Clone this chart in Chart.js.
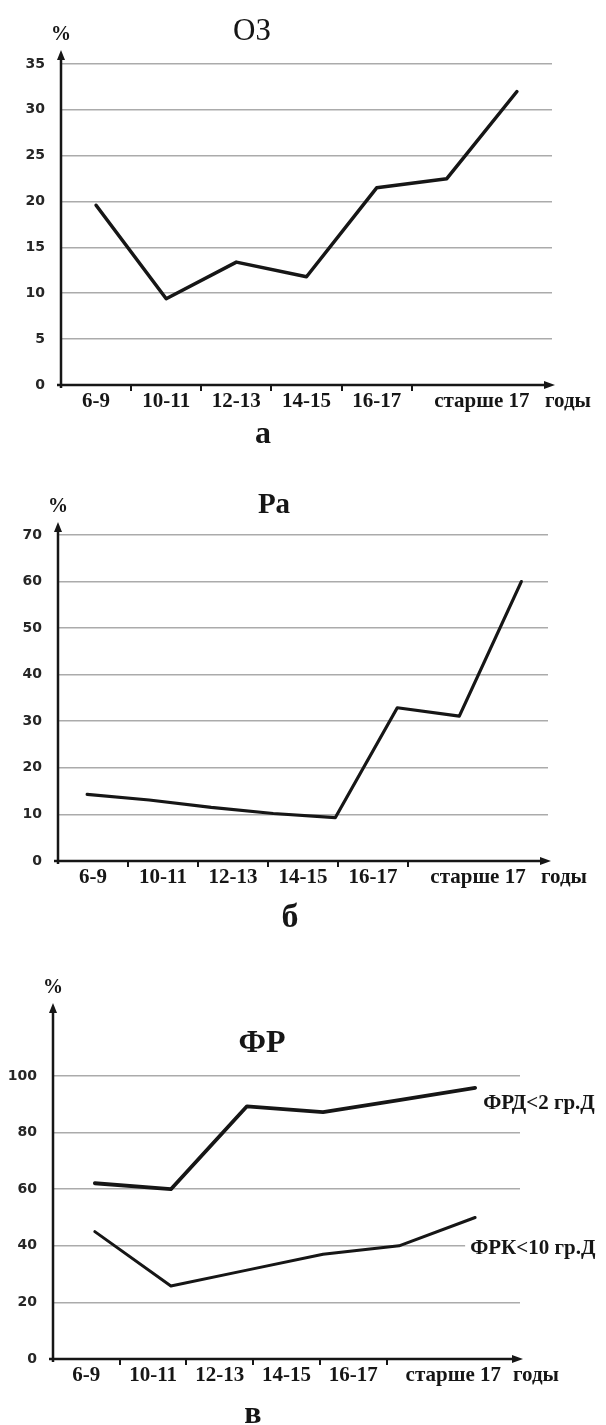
<!DOCTYPE html>
<html>
<head>
<meta charset="utf-8">
<script src="https://cdn.jsdelivr.net/npm/chart.js@4.4.0/dist/chart.umd.min.js"></script>
<style>
  html, body { margin: 0; padding: 0; background: #fff; }
  body { width: 606px; height: 1425px; position: relative; overflow: hidden; }
  canvas { position: absolute; left: 0; }
</style>
</head>
<body>
<canvas id="chartA" width="606" height="460" style="top:0px"></canvas>
<canvas id="chartB" width="606" height="480" style="top:460px"></canvas>
<canvas id="chartC" width="606" height="485" style="top:940px"></canvas>
<script>
// age groups, the last one is written across the last two slots
const ageLabels = ['6-9', '10-11', '12-13', '14-15', '16-17', 'старше 17'];
const slots = ['6-9', '10-11', '12-13', '14-15', '16-17', 'старше 17', ''];

// ОЗ (%)
const ozValues = [19.6, 9.4, 13.4, 11.8, 21.5, 22.5, 32.0];
const ozTicks = [0, 5, 10, 15, 20, 25, 30, 35];

// Ра (%)
const raValues = [14.3, 13.1, 11.5, 10.2, 9.3, 32.9, 31.1, 60.0];
const raTicks = [0, 10, 20, 30, 40, 50, 60, 70];

// ФР (%)
const frdValues = [62.1, 60.0, 89.3, 87.2, 91.5, 95.8];
const frkValues = [45.0, 25.8, 31.4, 37.0, 40.0, 50.0];
const frTicks = [0, 20, 40, 60, 80, 100];

const SERIF = '"Liberation Serif", "Times New Roman", serif';
const INK = '#161616';

// axes with arrows, x labels, titles
const decor = {
  id: 'decor',
  afterDraw(chart, args, o) {
    const ctx = chart.ctx;
    const { left, right, top, bottom } = chart.chartArea;
    const xs = chart.scales.x;
    ctx.save();
    ctx.strokeStyle = INK;
    ctx.fillStyle = INK;
    ctx.lineWidth = 2.5;

    // y axis
    const tipY = top - o.arrowUp;
    ctx.beginPath();
    ctx.moveTo(left, bottom + 3);
    ctx.lineTo(left, tipY + 6);
    ctx.stroke();
    ctx.beginPath();
    ctx.moveTo(left, tipY);
    ctx.lineTo(left - 4, tipY + 10);
    ctx.lineTo(left + 4, tipY + 10);
    ctx.closePath();
    ctx.fill();

    // x axis
    const tipX = right + 3;
    ctx.beginPath();
    ctx.moveTo(left - 4, bottom);
    ctx.lineTo(tipX - 6, bottom);
    ctx.stroke();
    ctx.beginPath();
    ctx.moveTo(tipX, bottom);
    ctx.lineTo(tipX - 11, bottom - 4);
    ctx.lineTo(tipX - 11, bottom + 4);
    ctx.closePath();
    ctx.fill();

    // category labels
    const baseY = bottom + 22;
    ctx.font = 'bold 21px ' + SERIF;
    ctx.textBaseline = 'alphabetic';
    ctx.textAlign = 'center';
    ageLabels.forEach((lab, i) => {
      let px = xs.getPixelForValue(i);
      if (i === ageLabels.length - 1) px = (px + xs.getPixelForValue(i + 1)) / 2;
      ctx.fillText(lab, px, baseY);
    });
    ctx.textAlign = 'left';
    ctx.fillText('годы', right - 7, baseY);

    // % unit
    ctx.textAlign = 'center';
    ctx.font = 'bold 20px ' + SERIF;
    ctx.fillText('%', left, tipY - 10);

    // title and panel letter
    ctx.font = o.title.font;
    ctx.fillText(o.title.text, o.title.x, o.title.y);
    ctx.font = 'bold ' + o.letter.size + 'px ' + SERIF;
    ctx.fillText(o.letter.text, o.letter.x, o.letter.y);

    // series names next to line ends
    (o.names || []).forEach(n => {
      const pts = chart.getDatasetMeta(n.dataset).data;
      const p = pts[pts.length - 1];
      ctx.font = 'bold 21px ' + SERIF;
      ctx.textAlign = 'left';
      const w = ctx.measureText(n.text).width;
      const x0 = p.x + n.dx, y0 = p.y + n.dy;
      ctx.fillStyle = '#fff';
      ctx.fillRect(x0 - 5, y0 - 17, w + 10, 22);
      ctx.fillStyle = INK;
      ctx.fillText(n.text, x0, y0);
    });
    ctx.restore();
  }
};

function makeChart(id, box, series, ticks, xRange, deco) {
  const canvas = document.getElementById(id);
  const H = canvas.height;
  return new Chart(canvas, {
    type: 'line',
    data: {
      labels: slots,
      datasets: series.map(s => ({
        data: s.values.map((v, i) => ({ x: i, y: v })),
        xAxisID: 'x2',
        borderColor: INK,
        borderWidth: s.width,
        borderJoinStyle: 'round',
        borderCapStyle: 'round',
        pointRadius: 0,
        tension: 0,
        fill: false
      }))
    },
    options: {
      responsive: false,
      animation: false,
      devicePixelRatio: 1,
      layout: {
        padding: { left: 0, top: box.top, right: 606 - box.right, bottom: H - box.bottom - 8 }
      },
      scales: {
        x: {
          type: 'category',
          offset: true,
          grid: {
            offset: true,
            drawOnChartArea: false,
            drawTicks: true,
            tickLength: 6,
            lineWidth: 2,
            color: c => (c.index >= 1 && c.index <= 5) ? INK : 'rgba(0,0,0,0)'
          },
          ticks: { display: false },
          border: { display: false },
          afterFit: s => { s.height = 8; }
        },
        x2: {
          type: 'linear',
          display: false,
          min: xRange[0],
          max: xRange[1]
        },
        y: {
          min: ticks[0],
          max: ticks[ticks.length - 1],
          afterBuildTicks: s => { s.ticks = ticks.map(v => ({ value: v })); },
          ticks: {
            font: { family: '"DejaVu Sans", sans-serif', weight: 'bold', size: 14 },
            color: '#262626',
            padding: 16
          },
          grid: { color: '#ababab', lineWidth: 1.6, drawTicks: false },
          border: { display: false },
          afterFit: s => { s.width = box.left; }
        }
      },
      plugins: {
        legend: { display: false },
        tooltip: { enabled: false },
        decor: deco
      }
    },
    plugins: [decor]
  });
}

makeChart('chartA',
  { left: 61, right: 552, top: 64, bottom: 385 },
  [{ values: ozValues, width: 3.5 }],
  ozTicks, [-0.5, 6.5],
  {
    arrowUp: 14,
    title: { text: 'ОЗ', x: 252, y: 40, font: '31px ' + SERIF },
    letter: { text: 'а', x: 263, y: 443, size: 32 }
  });

makeChart('chartB',
  { left: 58, right: 548, top: 75, bottom: 401 },
  [{ values: raValues, width: 3.2 }],
  raTicks, [-0.47, 7.43],
  {
    arrowUp: 13,
    title: { text: 'Ра', x: 274, y: 53, font: 'bold 29px ' + SERIF },
    letter: { text: 'б', x: 290, y: 467, size: 34 }
  });

makeChart('chartC',
  { left: 53, right: 520, top: 136, bottom: 419 },
  [{ values: frdValues, width: 3.8 }, { values: frkValues, width: 3 }],
  frTicks, [-0.55, 5.59],
  {
    arrowUp: 73,
    title: { text: 'ФР', x: 262, y: 112, font: 'bold 32px ' + SERIF },
    letter: { text: 'в', x: 253, y: 483, size: 32 },
    names: [
      { dataset: 0, text: 'ФРД<2 гр.Д', dx: 8, dy: 21 },
      { dataset: 1, text: 'ФРК<10 гр.Д', dx: -5, dy: 36 }
    ]
  });
</script>
</body>
</html>
